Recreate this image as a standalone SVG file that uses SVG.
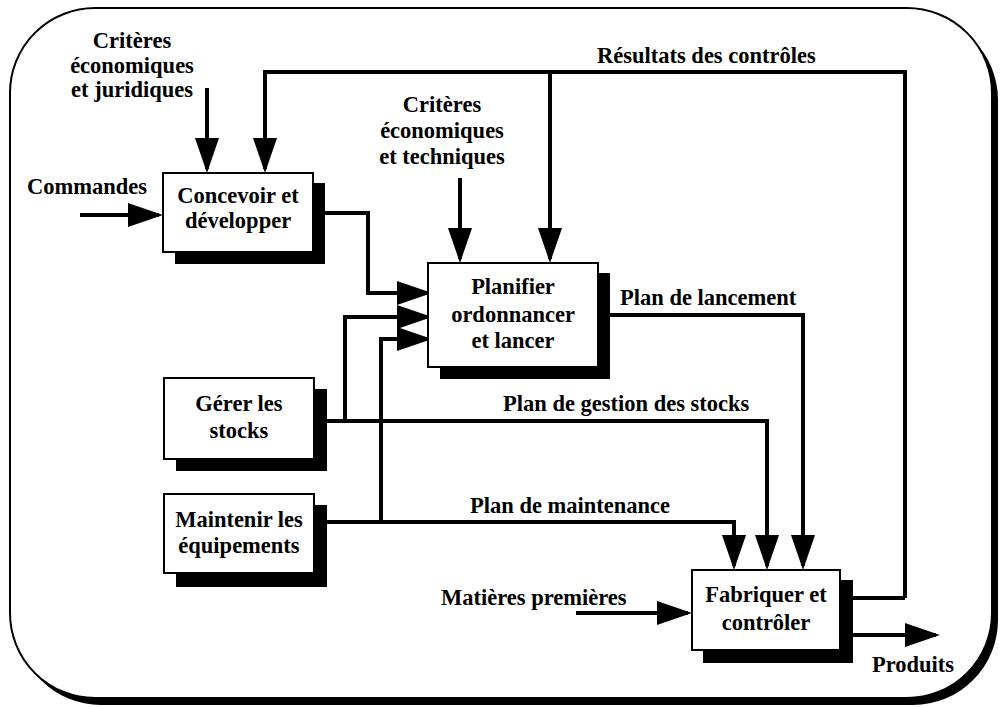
<svg xmlns="http://www.w3.org/2000/svg" width="1001" height="707" viewBox="0 0 1001 707">
<style>
text{font-family:"Liberation Serif","Times New Roman",serif;font-weight:bold;font-size:22.5px;fill:#000}
.c{text-anchor:middle}
.box{fill:#fff;stroke:#000;stroke-width:2}
.sh{fill:#000}
.ln{fill:none;stroke:#000;stroke-width:4;stroke-linejoin:miter}
</style>
<defs>
<marker id="ah" viewBox="0 0 35 24" refX="31" refY="12" markerWidth="35" markerHeight="24" markerUnits="userSpaceOnUse" orient="auto">
<path d="M0,0 L35,12 L0,24 Z" fill="#000"/>
</marker>
</defs>
<rect width="1001" height="707" fill="#fff"/>
<g id="frame">
<rect x="16" y="15" width="982" height="690" rx="85" ry="85" fill="#000"/>
<rect x="10" y="8" width="982" height="690" rx="85" ry="85" fill="#fff" stroke="#000" stroke-width="2"/>
</g>
<g id="connectors">
<path class="ln" d="M80,215 H159" marker-end="url(#ah)"/>
<path class="ln" d="M207,88 V169" marker-end="url(#ah)"/>
<path class="ln" d="M905,598 H853 M905,598 V72 H265 V169" marker-end="url(#ah)"/>
<path class="ln" d="M550,72 V259" marker-end="url(#ah)"/>
<path class="ln" d="M460,178 V259" marker-end="url(#ah)"/>
<path class="ln" d="M325,213 H368 V293 H428" marker-end="url(#ah)"/>
<path class="ln" d="M345,421 V317 H428" marker-end="url(#ah)"/>
<path class="ln" d="M381,523 V339 H428" marker-end="url(#ah)"/>
<path class="ln" d="M327,421 H767 V566" marker-end="url(#ah)"/>
<path class="ln" d="M327,522 H734 V566" marker-end="url(#ah)"/>
<path class="ln" d="M610,315 H803 V566" marker-end="url(#ah)"/>
<path class="ln" d="M576,613 H688" marker-end="url(#ah)"/>
<path class="ln" d="M853,635 H936" marker-end="url(#ah)"/>
</g>
<g id="concevoir">
<rect class="sh" x="175" y="183" width="150" height="81"/>
<rect class="box" x="163" y="173" width="150" height="79"/>
<text class="c" x="238" y="203">Concevoir et</text>
<text class="c" x="238" y="228">développer</text>
</g>
<g id="planifier">
<rect class="sh" x="440" y="273" width="170" height="106"/>
<rect class="box" x="428" y="263" width="170" height="104"/>
<text class="c" x="513" y="294">Planifier</text>
<text class="c" x="513" y="322">ordonnancer</text>
<text class="c" x="513" y="348">et lancer</text>
</g>
<g id="gerer">
<rect class="sh" x="176" y="389" width="151" height="82"/>
<rect class="box" x="164" y="378" width="150" height="81"/>
<text class="c" x="239" y="411">Gérer les</text>
<text class="c" x="239" y="438">stocks</text>
</g>
<g id="maintenir">
<rect class="sh" x="176" y="505" width="151" height="82"/>
<rect class="box" x="164" y="494" width="150" height="79"/>
<text class="c" x="239" y="527">Maintenir les</text>
<text class="c" x="239" y="553">équipements</text>
</g>
<g id="fabriquer">
<rect class="sh" x="703" y="580" width="150" height="83"/>
<rect class="box" x="692" y="570" width="148" height="80"/>
<text class="c" x="766" y="602">Fabriquer et</text>
<text class="c" x="766" y="630">contrôler</text>
</g>
<g id="labels">
<text class="c" x="132" y="48">Critères</text>
<text class="c" x="132" y="73">économiques</text>
<text class="c" x="132" y="97">et juridiques</text>
<text class="c" x="442" y="112">Critères</text>
<text class="c" x="442" y="138">économiques</text>
<text class="c" x="442" y="164">et techniques</text>
<text x="27" y="194">Commandes</text>
<text x="597" y="63">Résultats des contrôles</text>
<text x="620" y="305">Plan de lancement</text>
<text x="503" y="411">Plan de gestion des stocks</text>
<text x="470" y="513">Plan de maintenance</text>
<text x="441" y="605">Matières premières</text>
<text x="872" y="672">Produits</text>
</g>
</svg>
